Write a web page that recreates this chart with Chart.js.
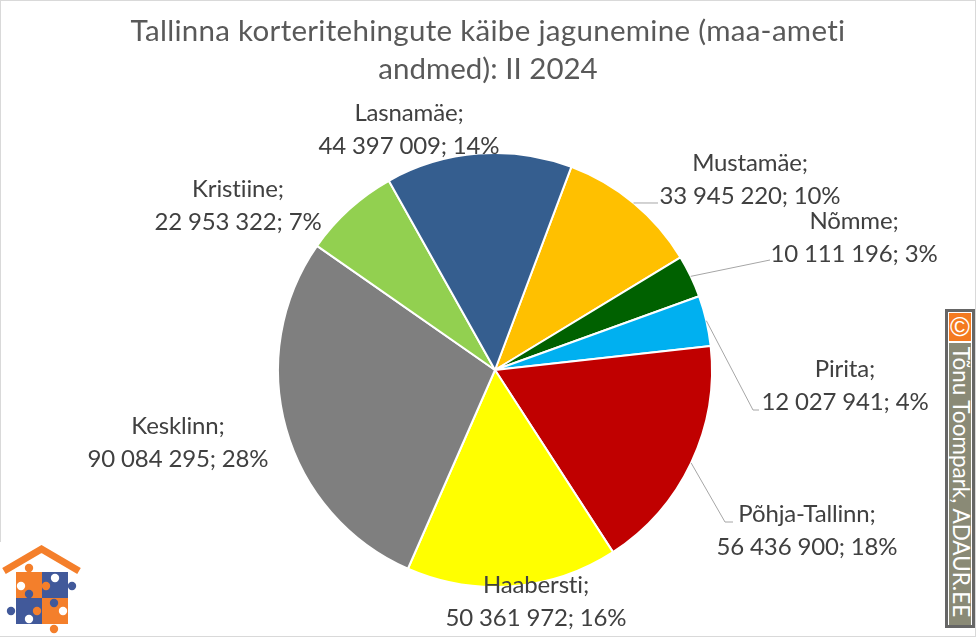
<!DOCTYPE html>
<html>
<head>
<meta charset="utf-8">
<script src="https://cdn.jsdelivr.net/npm/chart.js@4"></script>
<style>
  html, body { margin: 0; padding: 0; background: #fff; overflow: hidden; }
  #wrap { position: relative; width: 976px; height: 637px; }
  #wrap canvas { position: absolute; left: 0; top: 0; }
  #frame { position: absolute; left: 0; top: 0; width: 976px; height: 637px; box-sizing: border-box; border: 1px solid #d9d9d9; }
  #logo { position: absolute; left: 0; top: 542px; }
  #credit { position: absolute; left: 945px; top: 309px; width: 30px; height: 319px; box-sizing: border-box;
    border: 3px solid #666; background: #fff; }
  #credit .c { position: absolute; left: 1px; top: 1px; width: 22px; height: 28px; background: #f47a20; color: #fff;
    font: 27px "Liberation Sans"; line-height: 28px; text-align: center; overflow: hidden; }
  #credit .t { position: absolute; left: 1px; top: 31px; width: 22px; height: 282px; background: #8a8a76; }
  #credit .t span { position: absolute; left: 23px; top: -2px; width: 282px; height: 22px; color: #fff;
    font: 22.5px "Lato"; line-height: 22px; white-space: nowrap; text-align: center; transform-origin: 0 0; transform: rotate(90deg); }
</style>
</head>
<body>
<div id="wrap">
  <canvas id="pieChart" width="976" height="637"></canvas>
  <div id="frame"></div>
  <svg id="logo" width="84" height="94" viewBox="0 0 84 94">
    <rect width="84" height="94" fill="#fff"/>
    <path d="M4 29 L41.5 7 L79 29" fill="none" stroke="#f47f2b" stroke-width="7"/>
    <rect x="16" y="30" width="26" height="26" fill="#f47f2b"/>
    <rect x="42" y="30" width="26" height="26" fill="#41599a"/>
    <rect x="16" y="56" width="26" height="26" fill="#41599a"/>
    <rect x="42" y="56" width="26" height="26" fill="#f47f2b"/>
    <circle cx="29" cy="26" r="4.2" fill="#f47f2b"/>
    <circle cx="72" cy="44" r="4.2" fill="#41599a"/>
    <circle cx="11" cy="69" r="4.2" fill="#41599a"/>
    <circle cx="54" cy="87" r="4.2" fill="#f47f2b"/>
    <circle cx="55" cy="36" r="4.2" fill="#fff"/>
    <circle cx="21" cy="44" r="4.2" fill="#fff"/>
    <circle cx="29" cy="77" r="4.2" fill="#fff"/>
    <circle cx="63" cy="69" r="4.2" fill="#fff"/>
    <circle cx="46" cy="44" r="4.2" fill="#f47f2b"/>
    <circle cx="29" cy="52" r="4.2" fill="#41599a"/>
    <circle cx="54" cy="61" r="4.2" fill="#41599a"/>
    <circle cx="37" cy="69" r="4.2" fill="#f47f2b"/>
  </svg>
  <div id="credit">
    <div class="c">©</div>
    <div class="t"><span>Tõnu Toompark, ADAUR.EE</span></div>
  </div>
</div>
<script>
// turnover by district, II 2024
const districts = ["Mustamäe", "Nõmme", "Pirita", "Põhja-Tallinn", "Haabersti", "Kesklinn", "Kristiine", "Lasnamäe"];
const turnover = [33945220, 10111196, 12027941, 56436900, 50361972, 90084295, 22953322, 44397009];
const percents = [10, 3, 4, 18, 16, 28, 7, 14];
const sliceColors = ["#FFC000", "#006100", "#00B0F0", "#C00000", "#FFFF00", "#7F7F7F", "#92D050", "#355E8F"];
const titleLines = ["Tallinna korteritehingute käibe jagunemine (maa-ameti", "andmed): II 2024"];

// label centres in px, same order as districts
const labelX = [750, 854, 845, 807, 536, 178, 238, 409];
const labelY = [163, 221, 369, 514, 585, 426, 189, 113];
// leader lines from the slice edge through these points
const leaderPoints = [
  [[658, 203]],
  [[770, 260]],
  [[753, 410], [759, 410]],
  [[725, 522], [733, 522]],
  [], [], [], [],
];

function fmt(n) {
  return String(n).replace(/\B(?=(\d{3})+$)/g, " ");
}

const labelsPlugin = {
  id: "sliceLabels",
  afterDatasetsDraw(chart) {
    const ctx = chart.ctx;
    const arcs = chart.getDatasetMeta(0).data;
    ctx.save();
    // leader lines
    ctx.strokeStyle = "#a6a6a6";
    ctx.lineWidth = 1;
    arcs.forEach((arc, i) => {
      if (!leaderPoints[i].length) return;
      const mid = (arc.startAngle + arc.endAngle) / 2;
      ctx.beginPath();
      ctx.moveTo(arc.x + Math.cos(mid) * arc.outerRadius, arc.y + Math.sin(mid) * arc.outerRadius);
      leaderPoints[i].forEach((p) => ctx.lineTo(p[0], p[1]));
      ctx.stroke();
    });
    // title
    ctx.textAlign = "center";
    ctx.textBaseline = "middle";
    ctx.font = "29.5px Lato";
    ctx.fillStyle = "#595959";
    ctx.letterSpacing = "0.3px";
    ctx.fillText(titleLines[0], 488, 31);
    ctx.letterSpacing = "0.01px";
    ctx.fillText(titleLines[1], 488, 69);
    // labels
    ctx.letterSpacing = "-0.15px";
    ctx.font = "24px Lato";
    ctx.fillStyle = "#404040";
    districts.forEach((d, i) => {
      ctx.fillText(d + ";", labelX[i], labelY[i]);
      ctx.fillText(fmt(turnover[i]) + "; " + percents[i] + "%", labelX[i], labelY[i] + 33);
    });
    ctx.restore();
  }
};

const pieChart = new Chart(document.getElementById("pieChart"), {
  type: "pie",
  data: {
    labels: districts,
    datasets: [
      {
        data: turnover,
        backgroundColor: sliceColors,
        borderColor: "#fff",
        borderWidth: 2,
        hoverOffset: 0,
      },
    ],
  },
  plugins: [labelsPlugin],
  options: {
    responsive: false,
    animation: false,
    rotation: 20.6,
    layout: {
      padding: { left: 277, right: 263, top: 152, bottom: 49 },
    },
    plugins: {
      legend: { display: false },
      tooltip: { enabled: false },
    },
  },
});
</script>
</body>
</html>
